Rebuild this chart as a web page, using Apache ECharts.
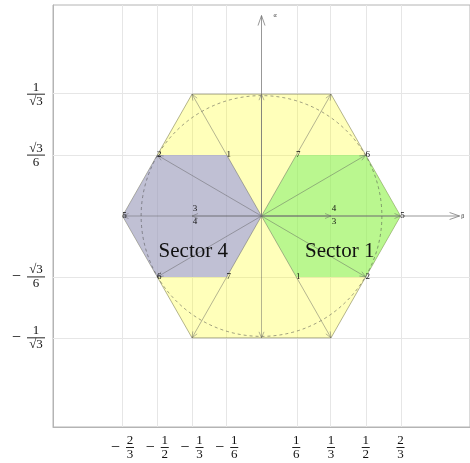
<!DOCTYPE html>
<html><head><meta charset="utf-8">
<script src="https://cdn.jsdelivr.net/npm/echarts@6/dist/echarts.min.js"></script>
<style>html,body{margin:0;padding:0;background:#fff}#c{width:470px;height:463px}</style>
</head><body><div id="c"></div>
<script>
const R3 = Math.sqrt(3);
// tick values and labels
const xTickValues = [-2/3, -1/2, -1/3, -1/6, 1/6, 1/3, 1/2, 2/3];
const xTickLabels = ['-2/3', '-1/2', '-1/3', '-1/6', '1/6', '1/3', '1/2', '2/3'];
const yTickValues = [-1/R3, -R3/6, R3/6, 1/R3];
const yTickLabels = ['-1/√3', '-√3/6', '√3/6', '1/√3'];
// shapes
const hexagon = [[2/3, 0], [1/3, 1/R3], [-1/3, 1/R3], [-2/3, 0], [-1/3, -1/R3], [1/3, -1/R3]];
const sector1 = [[0, 0], [1/6, R3/6], [1/2, R3/6], [2/3, 0], [1/2, -R3/6], [1/6, -R3/6]];
const sector4 = [[0, 0], [-1/6, R3/6], [-1/2, R3/6], [-2/3, 0], [-1/2, -R3/6], [-1/6, -R3/6]];
const circleRadius = 1/R3;
// vectors from the origin
const vectors = [[2/3, 0], [1/3, 1/R3], [-1/3, 1/R3], [-2/3, 0], [-1/3, -1/R3], [1/3, -1/R3],
  [0, 1/R3], [0, -1/R3], [1/2, R3/6], [1/2, -R3/6], [-1/2, R3/6], [-1/2, -R3/6], [1/3, 0], [-1/3, 0]];
const axisVectors = [[0.95, 0], [0, 0.95]];
const axisNames = [[0.965, 0, 'β'], [0.065, 0.95, 'α']];
// point labels
const pointLabels = [[1/6, R3/6, '7'], [1/2, R3/6, '6'], [2/3, 0, '5'], [1/2, -R3/6, '2'], [1/6, -R3/6, '1'],
  [-1/6, R3/6, '1'], [-1/2, R3/6, '2'], [-2/3, 0, '5'], [-1/2, -R3/6, '6'], [-1/6, -R3/6, '7']];
const fractionMarks = [[1/3, '4', '3'], [-1/3, '3', '4']];
const sectorNames = [[0.375, -0.166, 'Sector 1'], [-0.327, -0.166, 'Sector 4']];

const FONT = '"Liberation Serif", "DejaVu Serif", serif';

function fracLabel(str) {
  const neg = str[0] === '-';
  const s = neg ? str.slice(1) : str;
  const parts = s.split('/');
  const w = (parts[0].length > 1 || parts[1].length > 1) ? 'W' : 'N';
  const pre = neg ? '{s| }' : '';
  return pre + '{n' + w + '|' + parts[0] + '}\n' + (neg ? '{m|−}' : '') + '{b' + w + '| }\n' + pre + '{d' + w + '|' + parts[1] + '}';
}
function labelFor(values, labels, v) {
  for (let i = 0; i < values.length; i++) if (Math.abs(values[i] - v) < 1e-6) return fracLabel(labels[i]);
  return '';
}
const rich = {
  nN: {fontSize: 13, fontFamily: FONT, width: 8, align: 'center', lineHeight: 11, color: '#111'},
  dN: {fontSize: 13, fontFamily: FONT, width: 8, align: 'center', lineHeight: 11, color: '#111'},
  bN: {width: 8, height: 1, backgroundColor: '#222', lineHeight: 3, fontSize: 1},
  nW: {fontSize: 13, fontFamily: FONT, width: 18, align: 'center', lineHeight: 11, color: '#111'},
  dW: {fontSize: 13, fontFamily: FONT, width: 18, align: 'center', lineHeight: 11, color: '#111'},
  bW: {width: 18, height: 1, backgroundColor: '#222', lineHeight: 3, fontSize: 1},
  s: {width: 15, fontSize: 13, lineHeight: 11},
  m: {width: 15, fontSize: 16, fontFamily: FONT, align: 'left', lineHeight: 3, color: '#111'}
};

function polySeries(points, fill, stroke, z) {
  return {
    type: 'custom', coordinateSystem: 'cartesian2d', z: z, silent: true, clip: false,
    data: [[0, 0]],
    renderItem: function (params, api) {
      return {type: 'polygon', shape: {points: points.map(p => api.coord(p))},
        style: {fill: fill, stroke: stroke, lineWidth: stroke ? 0.8 : 0}};
    }
  };
}
function arrowShape(p0, p1, len, spread, color, width) {
  const dx = p1[0] - p0[0], dy = p1[1] - p0[1];
  const L = Math.sqrt(dx * dx + dy * dy);
  const ux = dx / L, uy = dy / L;
  const px = -uy, py = ux;
  const bx = p1[0] - ux * len, by = p1[1] - uy * len;
  return {type: 'group', children: [
    {type: 'line', shape: {x1: p0[0], y1: p0[1], x2: p1[0], y2: p1[1]}, style: {stroke: color, lineWidth: width}},
    {type: 'polyline', shape: {points: [[bx + px * spread, by + py * spread], p1, [bx - px * spread, by - py * spread]]},
      style: {stroke: color, lineWidth: width, fill: null}}
  ]};
}

const chart = echarts.init(document.getElementById('c'), null, {renderer: 'canvas'});
chart.setOption({
  animation: false,
  grid: {left: 53, top: 5, width: 420, height: 422, show: true, borderColor: '#b4b4b4', borderWidth: 1, backgroundColor: 'transparent'},
  xAxis: {
    type: 'value', min: -1, max: 1,
    axisLine: {show: true, onZero: false, lineStyle: {color: '#b4b4b4', width: 1}},
    axisTick: {show: false},
    splitLine: {show: false},
    axisLabel: {customValues: xTickValues, margin: 8, rich: rich, align: 'center',
      formatter: v => labelFor(xTickValues, xTickLabels, v)}
  },
  yAxis: {
    type: 'value', min: -1, max: 1,
    axisLine: {show: true, onZero: false, lineStyle: {color: '#b4b4b4', width: 1}},
    axisTick: {show: false},
    splitLine: {show: false},
    axisLabel: {customValues: yTickValues, margin: 8, rich: rich, align: 'right',
      formatter: v => labelFor(yTickValues, yTickLabels, v)}
  },
  series: [
    {
      type: 'line', data: [], silent: true, z: 1,
      markLine: {silent: true, z: 1, symbol: ['none', 'none'], label: {show: false}, animation: false,
        lineStyle: {color: '#e6e6e6', width: 1, type: 'solid'},
        data: xTickValues.map(v => ({xAxis: v})).concat(yTickValues.map(v => ({yAxis: v})))}
    },
    polySeries(hexagon, 'rgba(255,255,0,0.27)', 'rgba(110,110,60,0.65)', 2),
    polySeries(sector1, 'rgba(117,239,100,0.5)', null, 3),
    polySeries(sector4, 'rgba(129,129,238,0.5)', null, 3),
    {
      type: 'custom', coordinateSystem: 'cartesian2d', z: 4, silent: true, clip: false,
      data: [[0, 0]],
      renderItem: function (params, api) {
        const c = api.coord([0, 0]);
        const r = api.size([circleRadius, 0])[0];
        return {type: 'circle', shape: {cx: c[0], cy: c[1], r: r},
          style: {fill: null, stroke: 'rgba(70,70,70,0.75)', lineWidth: 0.7, lineDash: [3, 3]}};
      }
    },
    {
      type: 'custom', coordinateSystem: 'cartesian2d', z: 5, silent: true, clip: false,
      data: vectors,
      renderItem: function (params, api) {
        return arrowShape(api.coord([0, 0]), api.coord([api.value(0), api.value(1)]), 6, 2.5, 'rgba(90,90,90,0.5)', 0.9);
      }
    },
    {
      type: 'custom', coordinateSystem: 'cartesian2d', z: 5, silent: true, clip: false,
      data: axisVectors,
      renderItem: function (params, api) {
        return arrowShape(api.coord([0, 0]), api.coord([api.value(0), api.value(1)]), 10, 3.5, 'rgba(120,120,120,0.85)', 0.9);
      }
    },
    {
      type: 'custom', coordinateSystem: 'cartesian2d', z: 6, silent: true, clip: false,
      data: pointLabels,
      renderItem: function (params, api) {
        const p = api.coord([api.value(0), api.value(1)]);
        return {type: 'text', x: p[0] + 2, y: p[1],
          style: {text: pointLabels[params.dataIndex][2], fill: '#111', font: '9px ' + FONT, align: 'center', verticalAlign: 'middle'}};
      }
    },
    {
      type: 'custom', coordinateSystem: 'cartesian2d', z: 6, silent: true, clip: false,
      data: fractionMarks,
      renderItem: function (params, api) {
        const p = api.coord([api.value(0), 0]);
        const m = fractionMarks[params.dataIndex];
        return {type: 'group', children: [
          {type: 'text', x: p[0] + 3, y: p[1] - 7, style: {text: m[1], fill: '#111', font: '9px ' + FONT, align: 'center', verticalAlign: 'middle'}},
          {type: 'text', x: p[0] + 3, y: p[1] + 6, style: {text: m[2], fill: '#111', font: '9px ' + FONT, align: 'center', verticalAlign: 'middle'}}
        ]};
      }
    },
    {
      type: 'custom', coordinateSystem: 'cartesian2d', z: 6, silent: true, clip: false,
      data: axisNames,
      renderItem: function (params, api) {
        const p = api.coord([api.value(0), api.value(1)]);
        return {type: 'text', x: p[0], y: p[1],
          style: {text: axisNames[params.dataIndex][2], fill: '#333', font: '6px ' + FONT, align: 'center', verticalAlign: 'middle'}};
      }
    },
    {
      type: 'custom', coordinateSystem: 'cartesian2d', z: 7, silent: true, clip: false,
      data: sectorNames,
      renderItem: function (params, api) {
        const p = api.coord([api.value(0), api.value(1)]);
        return {type: 'text', x: p[0], y: p[1],
          style: {text: sectorNames[params.dataIndex][2], fill: '#111', font: '21px ' + FONT, align: 'center', verticalAlign: 'middle'}};
      }
    }
  ]
});
</script>
</body></html>
